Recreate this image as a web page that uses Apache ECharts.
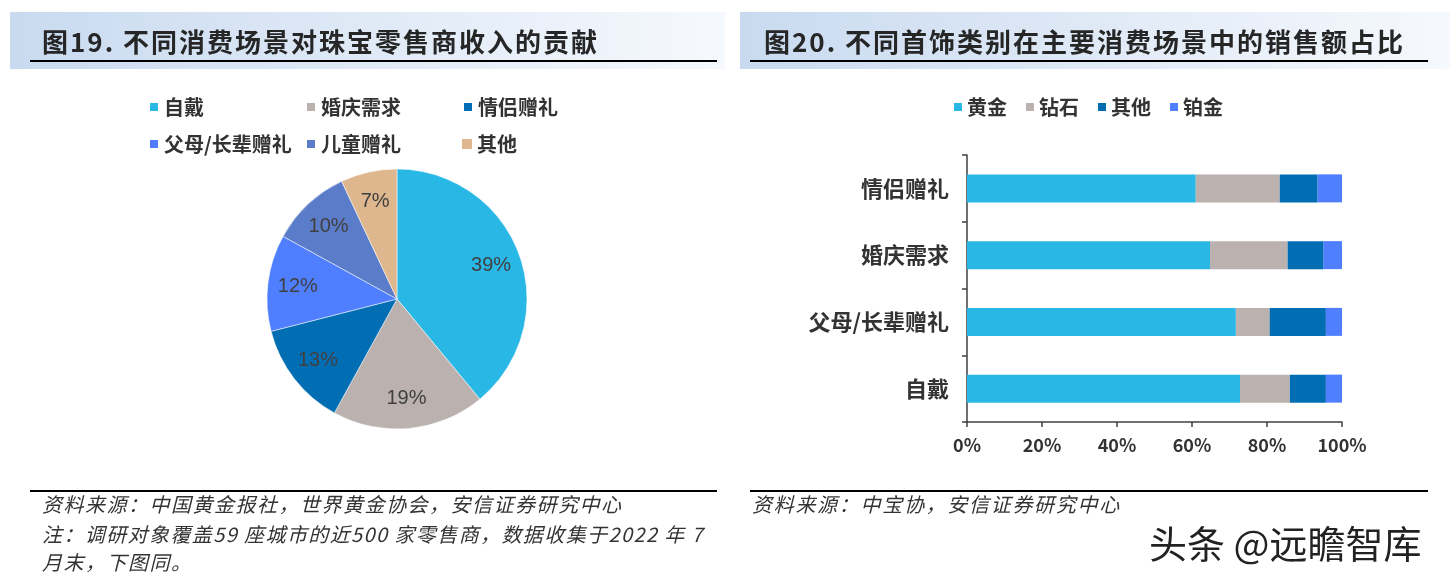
<!DOCTYPE html>
<html><head><meta charset="utf-8">
<script src="https://cdn.jsdelivr.net/npm/echarts@6/dist/echarts.min.js"></script>
<style>html,body{margin:0;padding:0;background:#fff}#c{width:1450px;height:580px}</style>
</head><body><div id="c"></div>
<script>
// Pie data (figure 19)
const pieNames = ['自戴','婚庆需求','情侣赠礼','父母/长辈赠礼','儿童赠礼','其他'];
const pieValues = [39,19,13,12,10,7];
const pieColors = ['#29B8E6','#BBB2B0','#016EB4','#4F7FFE','#5B7CC8','#DEB78F'];
// Bar data (figure 20)
const barCats = ['自戴','父母/长辈赠礼','婚庆需求','情侣赠礼'];
const seriesNames = ['黄金','钻石','其他','铂金'];
const gold = [72.8,71.7,64.8,61.0];
const diamond = [13.3,9.0,20.7,22.4];
const other = [9.6,15.0,9.6,10.1];
const platinum = [4.3,4.3,4.9,6.5];
const xTicks = [0,20,40,60,80,100];
const barColors = ['#29B8E6','#BBB2B0','#016EB4','#4F7FFE'];

const CJK = '"Noto Sans CJK SC","Noto Sans",sans-serif';
const chart = echarts.init(document.getElementById('c'), null, {renderer:'canvas'});

const grad = ()=>({type:'linear',x:0,y:0,x2:1,y2:0,colorStops:[{offset:0,color:'#C9DAF0'},{offset:1,color:'#F6F9FD'}]});
const legendText = {fontFamily:CJK,fontSize:20,fontWeight:'bold',color:'#333',lineHeight:22};
const pieLegendItem = i=>({name:pieNames[i],itemStyle:{color:pieColors[i]}});

// letter-spaced text built from single characters
const mctx = document.createElement('canvas').getContext('2d');
function spacedText(str, x, y, font, spacing, fill){
  mctx.font = font;
  const children = [];
  let cx = x;
  for (const ch of str){
    children.push({type:'text',x:cx,y:y,style:{text:ch,font:font,fill:fill,textVerticalAlign:'middle'}});
    cx += mctx.measureText(ch).width + spacing;
  }
  return {type:'group',children};
}
const FOOT = 'italic 20px '+CJK;

const option = {
  animation:false,
  backgroundColor:'#fff',
  graphic:[
    {type:'rect',shape:{x:10,y:12,width:715,height:57},style:{fill:grad()},z:0},
    {type:'rect',shape:{x:740,y:12,width:710,height:57},style:{fill:grad()},z:0},
    spacedText('图19. 不同消费场景对珠宝零售商收入的贡献',42,42,'bold 26px '+CJK,2,'#262626'),
    spacedText('图20. 不同首饰类别在主要消费场景中的销售额占比',764,42,'bold 26px '+CJK,2,'#262626'),
    {type:'line',shape:{x1:30,y1:61,x2:717,y2:61},style:{stroke:'#000',lineWidth:2}},
    {type:'line',shape:{x1:750,y1:61,x2:1428,y2:61},style:{stroke:'#000',lineWidth:2}},
    {type:'line',shape:{x1:30,y1:491,x2:717,y2:491},style:{stroke:'#000',lineWidth:2}},
    {type:'line',shape:{x1:750,y1:491,x2:1428,y2:491},style:{stroke:'#000',lineWidth:2}},
    spacedText('资料来源：中国黄金报社，世界黄金协会，安信证券研究中心',42,504,FOOT,1.5,'#333'),
    spacedText('注：调研对象覆盖59 座城市的近500 家零售商，数据收集于2022 年 7',42,534,FOOT,1.4,'#333'),
    spacedText('月末，下图同。',42,562,FOOT,1.5,'#333'),
    spacedText('资料来源：中宝协，安信证券研究中心',752,504,FOOT,1.7,'#333'),
    {type:'text',left:1148,top:524,style:{text:'头条 @远瞻智库',font:'38px '+CJK,fill:'#222',stroke:'#fff',lineWidth:2}}
  ],
  legend:[
    {left:148,top:96,padding:0,itemWidth:10,itemHeight:10,itemGap:0,icon:'rect',
     data:[0,1,2].map(pieLegendItem),
     textStyle:Object.assign({width:141},legendText)},
    {left:148,top:133,padding:0,itemWidth:10,itemHeight:10,itemGap:0,icon:'rect',
     data:[3,4,5].map(pieLegendItem),
     textStyle:Object.assign({width:141},legendText)},
    {left:954,top:96,padding:0,itemWidth:8,itemHeight:8,itemGap:19,icon:'rect',
     data:seriesNames.map((n,i)=>({name:n,itemStyle:{color:barColors[i]}})),
     textStyle:legendText}
  ],
  grid:{left:967,right:108,top:155,bottom:158,containLabel:false},
  xAxis:{type:'value',min:0,max:100,interval:20,
    axisLine:{show:true,lineStyle:{color:'#404040',width:1.5}},
    axisTick:{show:true,length:5,lineStyle:{color:'#404040',width:1.5}},
    splitLine:{show:false},
    axisLabel:{margin:14,fontFamily:CJK,fontSize:18,fontWeight:'bold',color:'#333',
      formatter:v=>xTicks.includes(v)?v+'%':''}},
  yAxis:{type:'category',data:barCats,
    axisLine:{show:true,lineStyle:{color:'#404040',width:1.5}},
    axisTick:{show:true,length:5,lineStyle:{color:'#404040',width:1.5}},
    axisLabel:{margin:18,fontFamily:CJK,fontSize:22,fontWeight:'bold',color:'#333'}},
  series:[
    {type:'pie',name:'pie',center:[397,299],radius:[0,130],startAngle:90,clockwise:true,
     data:pieNames.map((n,i)=>({name:n,value:pieValues[i],itemStyle:{color:pieColors[i]}})),
     label:{show:false},labelLine:{show:false},itemStyle:{borderColor:'#fff',borderWidth:0.5},silent:true},
    {type:'pie',name:'pieLabels',center:[397,299],radius:[64,130],startAngle:90,clockwise:true,z:5,
     legendHoverLink:false,silent:true,
     data:pieNames.map((n,i)=>({name:n,value:pieValues[i],itemStyle:{color:'rgba(0,0,0,0)'}})),
     label:{show:true,position:'inside',formatter:p=>p.value+'%',
       fontFamily:'"Liberation Sans Narrow","Liberation Sans",sans-serif',fontSize:20,color:'#404040'},
     labelLine:{show:false}},
    ...[gold,diamond,other,platinum].map((d,i)=>({
      type:'bar',name:seriesNames[i],stack:'s',data:d,barWidth:28,
      itemStyle:{color:barColors[i]}
    }))
  ]
};
chart.setOption(option);
</script></body></html>
